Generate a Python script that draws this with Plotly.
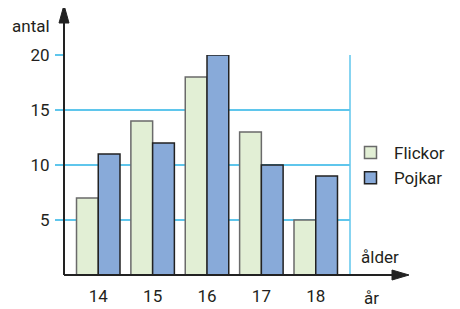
import plotly.graph_objects as go

ages = [14, 15, 16, 17, 18]
flickor = [7, 14, 18, 13, 5]
pojkar = [11, 12, 20, 10, 9]
y_ticks = [5, 10, 15, 20]

# page body has an 8px margin; work in screen coordinates
OFF = 8
W, H = 460 - OFF, 309 - OFF
PL, PT, PW, PH = 64, 55, 286, 220          # plot area in screen pixels
L, T = PL - OFF, PT - OFF
R, B = W - L - PW, H - T - PH

def px(x):
    return (x - PL) / PW

def py(y):
    return (PT + PH - y) / PH

BLUE = "#5fc6ec"
TXT = "#231f20"
FONT = "Roboto"
FS = 17

fig = go.Figure()
fig.add_trace(go.Bar(x=ages, y=flickor, name="Flickor",
                     marker=dict(color="#e2efd5", line=dict(color="#6a6a6a", width=1.5))))
fig.add_trace(go.Bar(x=ages, y=pojkar, name="Pojkar",
                     marker=dict(color="#88aad9", line=dict(color="#222222", width=1.5))))

shapes = [
    dict(type="line", xref="paper", yref="paper", x0=1, x1=1, y0=0, y1=1,
         line=dict(color=BLUE, width=1.5), layer="below"),
    dict(type="line", xref="paper", yref="paper", x0=0, x1=0, y0=0, y1=py(20),
         line=dict(color="#222", width=2)),
    dict(type="path", xref="paper", yref="paper",
         path=f"M {px(59)} {py(23)} L {px(64)} {py(5)} L {px(69)} {py(23)} Z",
         fillcolor="#222", line=dict(color="#222", width=1)),
    dict(type="line", xref="paper", yref="paper", x0=0, x1=px(394), y0=0, y1=0,
         line=dict(color="#222", width=2)),
    dict(type="path", xref="paper", yref="paper",
         path=f"M {px(392)} {py(270)} L {px(409)} {py(275)} L {px(392)} {py(280)} Z",
         fillcolor="#222", line=dict(color="#222", width=1)),
]

def label(text, x, y):
    return dict(text=text, x=px(x), y=py(y), xref="paper", yref="paper",
                xanchor="center", yanchor="middle", showarrow=False,
                font=dict(family=FONT, size=FS, color=TXT))

annotations = [
    label("antal", 31, 26),
    label("ålder", 380, 257),
    label("år", 371, 298),
]

fig.update_layout(
    width=W, height=H,
    margin=dict(l=L, r=R, t=T, b=B, autoexpand=False),
    paper_bgcolor="white", plot_bgcolor="white",
    barmode="group", bargap=0.2, bargroupgap=0,
    font=dict(family=FONT, size=FS, color=TXT),
    showlegend=True,
    legend=dict(x=px(347), y=py(135), xanchor="left", yanchor="top",
                font=dict(family=FONT, size=FS, color=TXT), itemwidth=37,
                bgcolor="rgba(0,0,0,0)", traceorder="normal"),
    xaxis=dict(range=[13.37, 18.63], tickvals=ages, ticktext=[str(a) for a in ages],
               showgrid=False, zeroline=False, showline=False, ticks="",
               ticklabelstandoff=9, automargin=False, fixedrange=True),
    yaxis=dict(range=[0, 20], tickvals=y_ticks, ticktext=[str(v) for v in y_ticks],
               showgrid=True, gridcolor=BLUE, gridwidth=1.5, zeroline=False,
               showline=False, ticks="outside", ticklen=8, tickcolor=BLUE, tickwidth=1.5,
               ticklabelstandoff=2, automargin=False, fixedrange=True),
    shapes=shapes,
    annotations=annotations,
)

fig.write_html("out.html")
